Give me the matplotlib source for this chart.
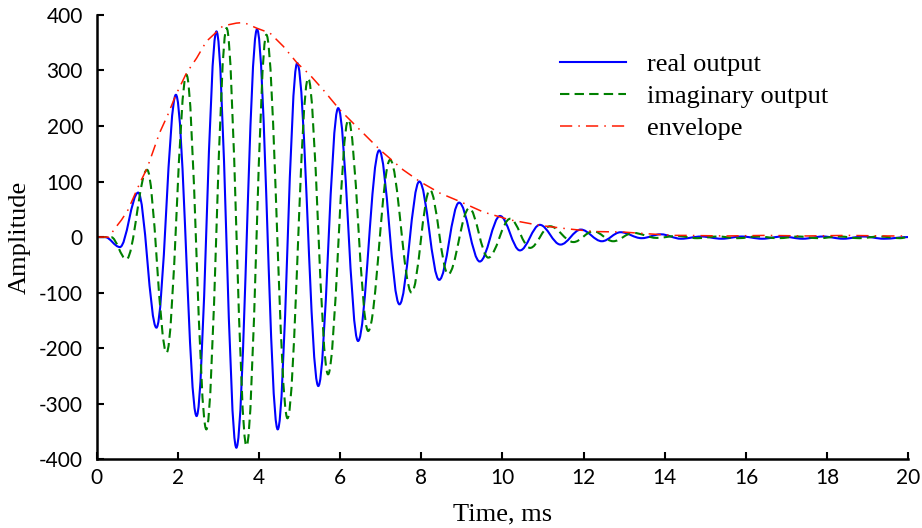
import matplotlib
matplotlib.use("Agg")
import matplotlib.pyplot as plt
from matplotlib.path import Path
from matplotlib.patches import PathPatch
from matplotlib.lines import Line2D

# turning points of the real output (time in ms, amplitude)
real_t = [0.0, 0.2, 0.57, 1.02, 1.47, 1.95, 2.46, 2.95, 3.44, 3.95, 4.46, 4.94,
          5.46, 5.95, 6.44, 6.96, 7.46, 7.95, 8.44, 8.93, 9.44, 9.94, 10.43,
          10.92, 11.43, 11.93, 12.45, 12.91, 13.43, 13.9, 14.4, 14.9, 15.4,
          15.9, 16.4, 16.9, 17.4, 17.9, 18.4, 18.9, 19.4, 20.0]
real_v = [0, 0, -18, 80, -163, 256, -322, 370, -379, 374, -346, 313,
          -268, 232, -187, 156, -121, 100, -77, 62, -44, 38, -24,
          22, -13.5, 13.5, -7.5, 8.7, -2, 5, -3, 1, -3, 1,
          -3, 1, -3, 1, -3, 1, -3, 0]

# turning points of the imaginary output
imag_t = [0.0, 0.35, 0.73, 1.24, 1.72, 2.21, 2.70, 3.20, 3.69, 4.18, 4.70,
          5.21, 5.70, 6.20, 6.69, 7.23, 7.76, 8.21, 8.66, 9.18, 9.65, 10.19,
          10.68, 11.17, 11.75, 12.24, 12.73, 13.22, 13.8, 14.3, 14.8, 15.3,
          15.8, 16.3, 16.8, 17.3, 17.8, 18.3, 18.8, 19.3, 19.8, 20.0]
imag_v = [0, 0, -40, 121, -208, 292, -346, 376, -376, 364, -326,
          286, -247, 211, -169, 139, -100, 85, -67, 52, -37, 33,
          -19.5, 19.5, -9, 10.5, -7.5, 7.5, -1.5, 2, -2, 1,
          -2, 1, -2, 1, -2, 1, -2, 1, -2, 0]

# envelope samples
env_t = [0.0, 0.3, 0.44, 0.61, 0.77, 1.06, 1.24, 1.55, 1.75, 1.95, 2.21, 2.46,
         2.70, 3.11, 3.44, 3.60, 3.69, 3.94, 4.27, 4.60, 4.94, 5.25, 5.58,
         5.99, 6.36, 6.98, 7.55, 7.96, 8.46, 8.95, 9.53, 10.18, 10.92, 11.58,
         12.24, 12.98, 13.56, 14.2, 14.5, 15.5, 16.5, 17.5, 18.5, 19.5, 20.0]
env_v = [0, 0, 15, 31, 49, 97, 124, 188, 220, 256, 295, 322,
         352, 380, 385, 386, 384, 376, 367, 343, 313, 292, 265,
         229, 202, 157, 121, 100, 79, 64, 45, 31, 21, 15,
         10, 9, 6, 3, 3, 2, 3, 2, 3, 2, 2]

x_ticks = list(range(0, 21, 2))
y_ticks = list(range(-400, 401, 100))


def wave_path(ts, vs, k=0.36):
    # cubic Bezier between turning points, flat tangent at each one
    verts = [(ts[0], vs[0])]
    codes = [Path.MOVETO]
    for t0, v0, t1, v1 in zip(ts[:-1], vs[:-1], ts[1:], vs[1:]):
        d = t1 - t0
        verts += [(t0 + k * d, v0), (t1 - k * d, v1), (t1, v1)]
        codes += [Path.CURVE4] * 3
    return Path(verts, codes)


plt.rcParams["axes.unicode_minus"] = False

fig = plt.figure(figsize=(9.22, 5.28), dpi=100)
ax = fig.add_axes([0.105, 0.13, 0.88, 0.842])

blue = "#0000ff"
green = "#008000"
red = "#ff1a00"
dash = (0, (4.5, 2.5))
dashdot = (0, (8, 4, 1, 4))

ax.add_patch(PathPatch(wave_path(real_t, real_v), fill=False,
                       edgecolor=blue, lw=1.5))
ax.add_patch(PathPatch(wave_path(imag_t, imag_v), fill=False,
                       edgecolor=green, lw=1.5, linestyle=dash))
ax.plot(env_t, env_v, color=red, lw=1.1, linestyle=dashdot)

handles = [Line2D([], [], color=blue, lw=1.5),
           Line2D([], [], color=green, lw=1.5, linestyle=dash),
           Line2D([], [], color=red, lw=1.1, linestyle=dashdot)]
labels = ["real output", "imaginary output", "envelope"]
ax.legend(handles, labels, loc="upper left", bbox_to_anchor=(0.555, 0.945),
          frameon=False, borderpad=0, handlelength=2.5, handletextpad=0.8,
          labelspacing=0.33, prop={"family": "Liberation Serif", "size": 19})

ax.set_xlim(0, 20)
ax.set_ylim(-400, 400)
ax.set_xticks(x_ticks)
ax.set_yticks(y_ticks)
for s in ("top", "right"):
    ax.spines[s].set_visible(False)
for s in ("left", "bottom"):
    ax.spines[s].set_linewidth(1.8)
ax.tick_params(direction="in", length=5, width=1.5, labelsize=15)
ax.tick_params(axis="y", pad=10)
ax.tick_params(axis="x", pad=6)
for lab in ax.get_xticklabels() + ax.get_yticklabels():
    lab.set_family("Lato")

ax.set_xlabel("Time, ms", family="Liberation Serif", fontsize=19)
ax.set_ylabel("Amplitude", family="Liberation Serif", fontsize=19)
ax.yaxis.set_label_coords(-0.082, 0.5)
ax.xaxis.set_label_coords(0.5, -0.1)

fig.savefig("out.png", dpi=100)
